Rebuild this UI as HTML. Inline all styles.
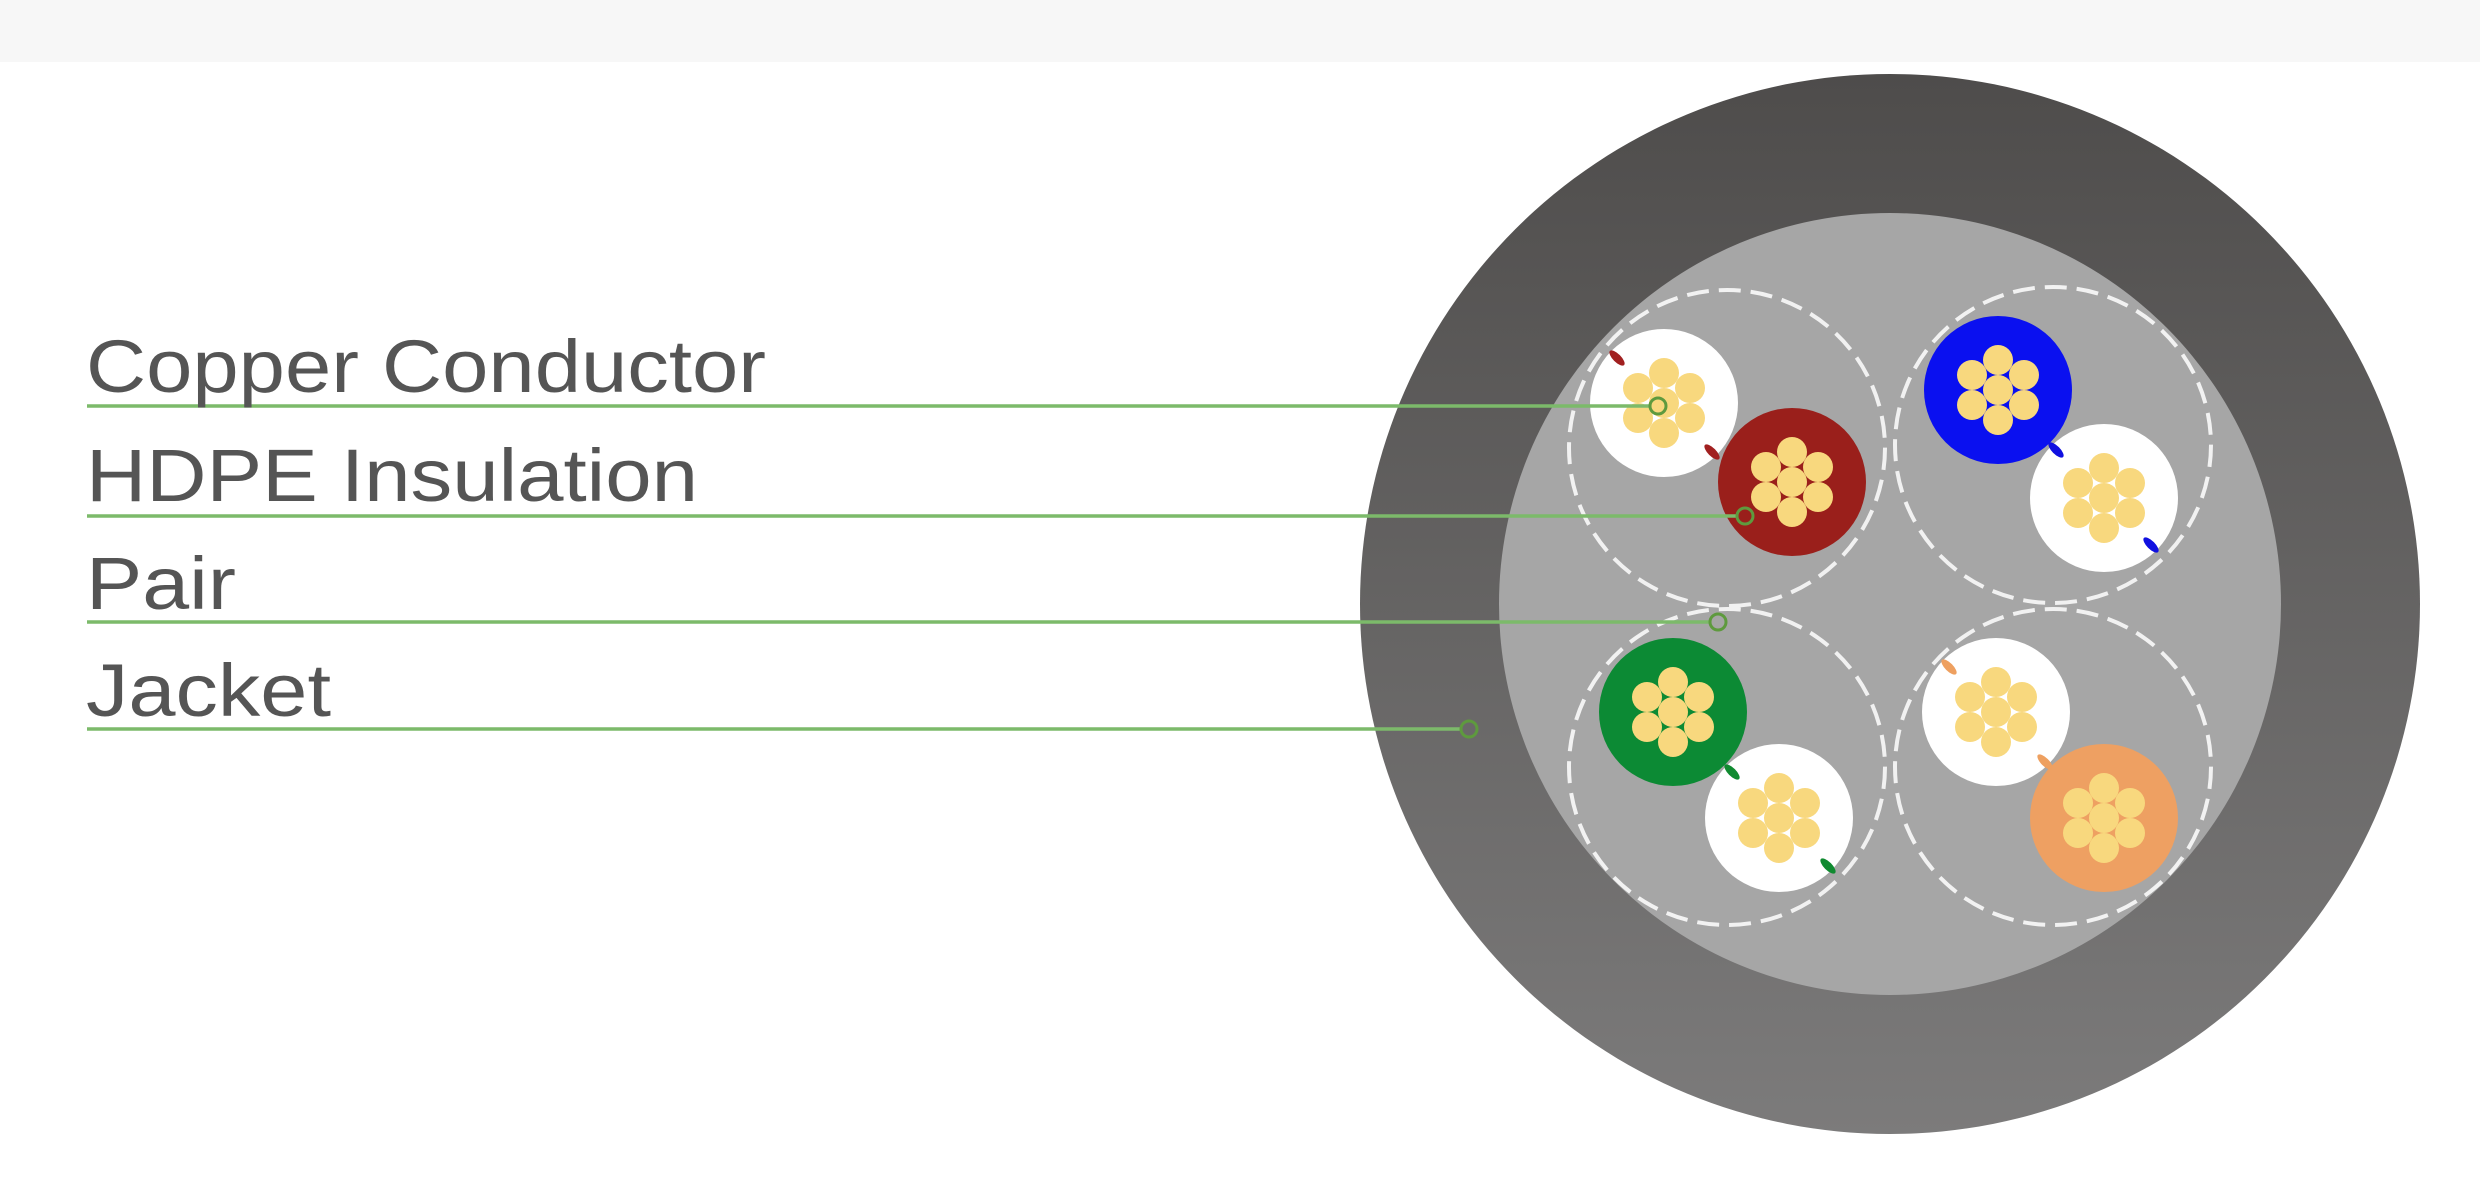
<!DOCTYPE html>
<html><head><meta charset="utf-8"><style>html,body{margin:0;padding:0;background:#fff;}svg{display:block}</style></head>
<body>
<svg width="2480" height="1194" viewBox="0 0 2480 1194" xmlns="http://www.w3.org/2000/svg">
<defs>
<linearGradient id="jk" x1="0" y1="0" x2="0" y2="1">
<stop offset="0" stop-color="#4e4c4b"/><stop offset="1" stop-color="#7c7b7b"/>
</linearGradient>
<g id="str" fill="#f8d87e">
<circle cx="0" cy="0" r="15"/>
<circle cx="0" cy="30" r="15"/><circle cx="0" cy="-30" r="15"/>
<circle cx="26" cy="15" r="15"/><circle cx="-26" cy="15" r="15"/>
<circle cx="26" cy="-15" r="15"/><circle cx="-26" cy="-15" r="15"/>
</g>
</defs>
<rect width="2480" height="1194" fill="#fff"/>
<rect width="2480" height="62" fill="#f7f7f7"/>
<circle cx="1890" cy="604" r="530" fill="url(#jk)"/>
<circle cx="1890" cy="604" r="391" fill="#a6a6a6"/>
<g fill="none" stroke="#fff" stroke-width="4" stroke-dasharray="22 10" opacity="0.85">
<circle cx="1727" cy="448" r="158"/><circle cx="2053" cy="445" r="158"/>
<circle cx="1727" cy="767" r="158"/><circle cx="2053" cy="767" r="158"/>
</g>
<circle cx="1664" cy="403" r="74" fill="#fff"/><use href="#str" x="1664" y="403"/>
<circle cx="1792" cy="482" r="74" fill="#9a1f1b"/><use href="#str" x="1792" y="482"/>
<circle cx="1998" cy="390" r="74" fill="#0a10f0"/><use href="#str" x="1998" y="390"/>
<circle cx="2104" cy="498" r="74" fill="#fff"/><use href="#str" x="2104" y="498"/>
<circle cx="1673" cy="712" r="74" fill="#0c8a34"/><use href="#str" x="1673" y="712"/>
<circle cx="1779" cy="818" r="74" fill="#fff"/><use href="#str" x="1779" y="818"/>
<circle cx="1996" cy="712" r="74" fill="#fff"/><use href="#str" x="1996" y="712"/>
<circle cx="2104" cy="818" r="74" fill="#eea062"/><use href="#str" x="2104" y="818"/>
<!-- marker stripes -->
<g>
<ellipse cx="1617" cy="358" rx="10" ry="4" transform="rotate(45 1617 358)" fill="#a12020"/>
<ellipse cx="1712" cy="452" rx="10" ry="4" transform="rotate(45 1712 452)" fill="#a12020"/>
<ellipse cx="2056" cy="450" rx="10" ry="4" transform="rotate(45 2056 450)" fill="#1010e0"/>
<ellipse cx="2151" cy="545" rx="10" ry="4" transform="rotate(45 2151 545)" fill="#1010e0"/>
<ellipse cx="1732" cy="772" rx="10" ry="4" transform="rotate(45 1732 772)" fill="#108a30"/>
<ellipse cx="1828" cy="866" rx="10" ry="4" transform="rotate(45 1828 866)" fill="#108a30"/>
<ellipse cx="1949" cy="667" rx="10" ry="4" transform="rotate(45 1949 667)" fill="#eea060"/>
<ellipse cx="2045" cy="762" rx="10" ry="4" transform="rotate(45 2045 762)" fill="#eea060"/>
</g>
<!-- leader lines -->
<g stroke="#7cba6a" stroke-width="3.5" fill="none">
<line x1="87" y1="406" x2="1650" y2="406"/>
<line x1="87" y1="516" x2="1737" y2="516"/>
<line x1="87" y1="622" x2="1710" y2="622"/>
<line x1="87" y1="729" x2="1461" y2="729"/>
</g>
<g stroke="#5e9a3e" stroke-width="3" fill="none">
<circle cx="1658" cy="406" r="8"/>
<circle cx="1745" cy="516" r="8"/>
<circle cx="1718" cy="622" r="8"/>
<circle cx="1469" cy="729" r="8"/>
</g>
<g font-family="Liberation Sans, sans-serif" font-size="74" fill="#555">
<text x="86" y="392" textLength="680" lengthAdjust="spacingAndGlyphs">Copper Conductor</text>
<text x="86" y="501" textLength="612" lengthAdjust="spacingAndGlyphs">HDPE Insulation</text>
<text x="86" y="609" textLength="150" lengthAdjust="spacingAndGlyphs">Pair</text>
<text x="86" y="716" textLength="245" lengthAdjust="spacingAndGlyphs">Jacket</text>
</g>
</svg>
</body></html>
